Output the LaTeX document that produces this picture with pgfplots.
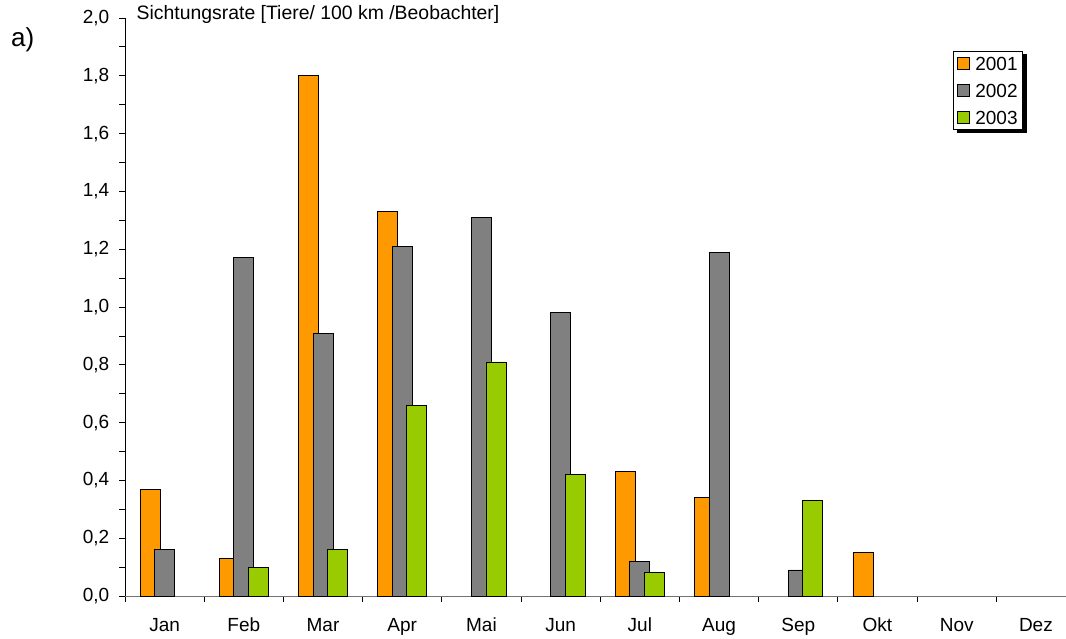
\documentclass[border=0pt]{standalone}
\usepackage{pgfplots}
\pgfplotsset{compat=1.18}
\usepackage{fontspec}
\setmainfont{Liberation Sans}
\usetikzlibrary{backgrounds}
\definecolor{c01}{HTML}{FF9900}
\definecolor{c02}{HTML}{808080}
\definecolor{c03}{HTML}{99CC00}
\pgfplotsset{sq/.style={legend image code/.code={\draw[##1, draw=black, line width=0.8pt] (0pt,-6pt) rectangle (12pt,6pt);}}}
\begin{document}
\begin{tikzpicture}
\begin{axis}[
  scale only axis, width=941pt, height=578pt,
  at={(0,0)}, anchor=south west,
  xmin=-0.5, xmax=11.38, ymin=0, ymax=2.0,
  axis x line=bottom, axis y line=left,
  axis line style={-, line width=0.8pt},
  x axis line style={draw=black!55},
  y axis line style={draw=black},
  clip=false,
  tick align=outside,
  major tick length=6pt, minor tick length=6pt,
  tick style={black, line width=0.8pt},
  xtick={0,...,11},
  xticklabels={Jan,Feb,Mar,Apr,Mai,Jun,Jul,Aug,Sep,Okt,Nov,Dez},
  minor xtick={-0.5,0.5,...,10.5},
  major x tick style={draw=none},
  ytick={0,0.2,...,2.01},
  minor ytick={0.1,0.3,...,1.91},
  /pgf/number format/assume math mode=true,
  tick label style={font=\fontsize{19}{22}\selectfont},
  yticklabel style={anchor=east, inner sep=0pt, xshift=-9.5pt,
    /pgf/number format/use comma, /pgf/number format/fixed,
    /pgf/number format/fixed zerofill, /pgf/number format/precision=1},
  xticklabel style={anchor=base, inner sep=0pt, yshift=-29pt},
  legend style={name=leg, at={(0.9543,0.943)}, anchor=north east, draw=black, fill=white,
    font=\fontsize{19}{22}\selectfont, line width=0.8pt,
    row sep=9pt, column sep=4pt, inner xsep=3pt, inner ysep=3pt,
    nodes={inner sep=2pt, text height=14pt, text depth=0pt}},
  legend cell align=left,
]
\addplot[ybar, bar width=20pt, bar shift=-14.5pt, fill=c01, draw=black, line width=0.8pt, sq]
 coordinates {(0,0.37) (1,0.13) (2,1.80) (3,1.33) (6,0.43) (7,0.34) (9,0.15)};
\addlegendentry{2001}
\addplot[ybar, bar width=20pt, bar shift=0pt, fill=c02, draw=black, line width=0.8pt, sq]
 coordinates {(0,0.16) (1,1.17) (2,0.91) (3,1.21) (4,1.31) (5,0.98) (6,0.12) (7,1.19) (8,0.09)};
\addlegendentry{2002}
\addplot[ybar, bar width=20pt, bar shift=14.5pt, fill=c03, draw=black, line width=0.8pt, sq]
 coordinates {(1,0.10) (2,0.16) (3,0.66) (4,0.81) (5,0.42) (6,0.08) (8,0.33)};
\addlegendentry{2003}
\node[anchor=base west, inner sep=0pt, font=\fontsize{19.4}{22}\selectfont, xshift=11.5pt, yshift=-2pt] at (rel axis cs:0,1) {Sichtungsrate [Tiere/ 100 km /Beobachter]};
\end{axis}
\begin{scope}[on background layer]
\fill[black] ([xshift=3.5pt,yshift=-3.5pt]leg.south west) rectangle ([xshift=3.5pt,yshift=-3.5pt]leg.north east);
\end{scope}
\node[anchor=base west, inner sep=0pt, font=\fontsize{26}{30}\selectfont] at (-114pt,549pt) {a)};
\pgfresetboundingbox
\path (-125pt,-42pt) rectangle (941pt,596pt);
\end{tikzpicture}
\end{document}
